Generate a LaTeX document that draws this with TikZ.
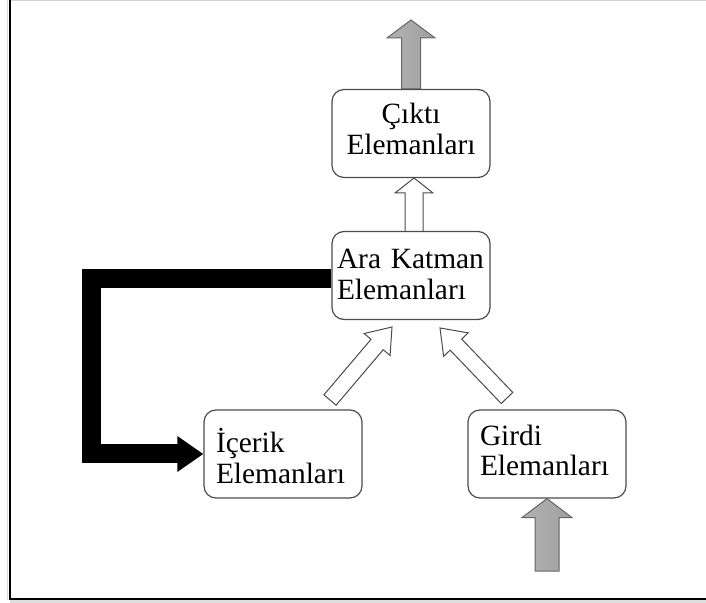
\documentclass[tikz,border=0pt]{standalone}
\usepackage{fontspec}
\setmainfont{Liberation Serif}
\usetikzlibrary{calc,arrows.meta,backgrounds}

% Block arrow from tail #2 to tip #3: #4 half shaft width, #5 half head width, #6 head length
\newcommand\fatarrow[6]{%
  \coordinate (fa-s) at (#2);
  \coordinate (fa-t) at (#3);
  \coordinate (fa-h) at ($(fa-t)!#6!(fa-s)$);
  \path[#1] ($(fa-s)!#4!90:(fa-t)$) -- ($(fa-h)!#4!90:(fa-t)$)
    -- ($(fa-h)!#5!90:(fa-t)$) -- (fa-t) -- ($(fa-h)!#5!-90:(fa-t)$)
    -- ($(fa-h)!#4!-90:(fa-t)$) -- ($(fa-s)!#4!-90:(fa-t)$) -- cycle;}

\newcommand\unitfont{\fontsize{14.7}{15.5}\selectfont\hyphenpenalty10000\relax}

\tikzset{
  unitbox/.style={draw=black!70, line width=0.6pt, rounded corners=6pt, fill=white,
    minimum width=79pt, minimum height=44pt, inner ysep=0pt, text height=0pt,
    font=\unitfont},
  hollow/.style={draw=black!70, line width=0.5pt, fill=white, line join=miter},
  greyarrow/.style={draw=black!60, line width=0.5pt, line join=miter,
    left color=gray!60, middle color=gray!22, right color=gray!75},
  feedback/.style={line width=9.5pt, line join=miter, black,
    -{Triangle[length=13pt,width=17pt]}},
}

\begin{document}
\begin{tikzpicture}[x=0.5pt,y=-0.5pt]
  \useasboundingbox (0,0) rectangle (706,603);

  % page frame
  \draw[gray!35, line width=0.9pt] (10,0.6) -- (706,0.6);
  \fill[gray!25] (10,600) rectangle (706,603);
  \draw[gray!30, line width=0.8pt] (7.5,0) -- (7.5,600);
  \draw[black, line width=1.3pt] (10,0) -- (10,599) -- (706,599);

  % units
  \node[unitbox, text width=67pt, inner xsep=6pt, align=center, text depth=9.5pt]
    (cikti) at (411,133.5) {Çıktı\\Elemanları};
  \node[unitbox, text width=74pt, inner xsep=2.5pt, align=left, text depth=6.5pt]
    (ara) at (411,275.5) {Ara Katman\\Elemanları};
  \node[unitbox, text width=67pt, inner xsep=6pt, align=left, text depth=2pt]
    (icerik) at (283,454) {İçerik\\Elemanları};
  \node[unitbox, text width=67pt, inner xsep=6pt, align=left, text depth=9pt]
    (girdi) at (547,454) {Girdi\\Elemanları};

  % free ends of the block arrows
  \coordinate (outtip) at (411,20);
  \coordinate (intail) at (547,571);
  \coordinate (midtail) at (414,232);
  \coordinate (midtip) at (414,178);
  \coordinate (ctail) at (330,400);
  \coordinate (ctip) at (392,327);
  \coordinate (gtail) at (507,398);
  \coordinate (gtip) at (440,328);
  \coordinate (fb) at (91.5,279);

  \begin{scope}[on background layer]
    \fatarrow{greyarrow}{cikti.north}{outtip}{4.75pt}{12pt}{9pt}
    \fatarrow{greyarrow}{intail}{girdi.south}{6pt}{12.5pt}{9.5pt}
    \fatarrow{hollow}{midtail}{midtip}{4.5pt}{9.5pt}{7.5pt}
    \fatarrow{hollow}{ctail}{ctip}{4pt}{8.5pt}{11.5pt}
    \fatarrow{hollow}{gtail}{gtip}{4pt}{8.5pt}{11.5pt}
    \draw[feedback] (ara.west |- fb) -- (fb) |- (icerik.west);
  \end{scope}
\end{tikzpicture}
\end{document}
